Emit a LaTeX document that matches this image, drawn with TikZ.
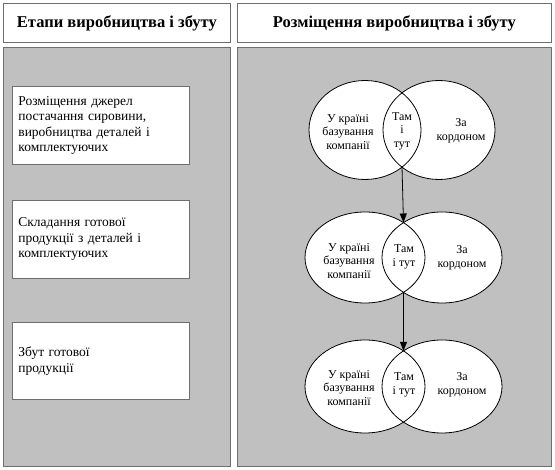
\documentclass[tikz,border=0pt]{standalone}
\usepackage{fontspec}
\setmainfont{Liberation Serif}
\usetikzlibrary{shapes.geometric,arrows.meta,calc,shadows}
\definecolor{panelgray}{RGB}{192,192,192}
\definecolor{edgegray}{RGB}{110,110,110}
\begin{document}
\begin{tikzpicture}[x=1pt,y=-1pt,
  boxbase/.style={draw=edgegray, line width=0.8pt, anchor=north west, inner sep=0pt,
    drop shadow={shadow xshift=0.8pt,shadow yshift=-0.8pt,fill=black,opacity=1}},
  panel/.style={boxbase, fill=panelgray},
  hdr/.style={boxbase, fill=white, font=\rmfamily\bfseries\fontsize{16.5}{19}\selectfont},
  stagebox/.style={boxbase, fill=white, align=left, text width=165pt, inner xsep=6pt,
    minimum width=177pt, font=\rmfamily\fontsize{13.5}{15.5}\selectfont},
  venn/.style={ellipse, draw=black, line width=0.8pt, inner sep=0pt},
  vtext/.style={align=center, inner sep=0pt, font=\rmfamily\fontsize{12}{13.5}\selectfont},
  arr/.style={line width=0.8pt, -{Triangle[length=9pt,width=7pt]}}
]
\useasboundingbox (0,0) rectangle (555,470);
% headers
\node[hdr, minimum width=227pt, minimum height=39pt] (lh) at (3,3) {Етапи виробництва і збуту};
\node[hdr, minimum width=314pt, minimum height=39pt] (rh) at (237,3) {Розміщення виробництва і збуту};
% panels
\node[panel, minimum width=227pt, minimum height=419pt] (lp) at (3,47) {};
\node[panel, minimum width=314pt, minimum height=419pt] (rp) at (237,47) {};
% stage boxes
\node[stagebox, minimum height=78pt] (s1) at (12,86) {Розміщення джерел\\ постачання сировини,\\ виробництва деталей і\\ комплектуючих};
\node[stagebox, minimum height=78pt] (s2) at (12,200) {Складання готової\\ продукції з деталей і\\ комплектуючих};
\node[stagebox, minimum height=77pt] (s3) at (12,322) {Збут готової\\ продукції};
% venn fills
\fill[white] (365,130) ellipse [x radius=56pt, y radius=49.5pt];
\fill[white] (439,130) ellipse [x radius=56pt, y radius=49.5pt];
\fill[white] (365,257.5) ellipse [x radius=60pt, y radius=45.5pt];
\fill[white] (442,257.5) ellipse [x radius=60pt, y radius=45.5pt];
\fill[white] (365,386.5) ellipse [x radius=60pt, y radius=46.5pt];
\fill[white] (442,386.5) ellipse [x radius=60pt, y radius=46.5pt];
% venn outlines
\node[venn, minimum width=112pt, minimum height=99pt] (l1) at (365,130) {};
\node[venn, minimum width=112pt, minimum height=99pt] (r1) at (439,130) {};
\node[venn, minimum width=120pt, minimum height=91pt] (l2) at (365,257.5) {};
\node[venn, minimum width=120pt, minimum height=91pt] (r2) at (442,257.5) {};
\node[venn, minimum width=120pt, minimum height=93pt] (l3) at (365,386.5) {};
\node[venn, minimum width=120pt, minimum height=93pt] (r3) at (442,386.5) {};
% intersections
\coordinate (b1) at ($(l1.center)!0.5!(r1.center)+(0,37)$);
\coordinate (t2) at ($(l2.center)!0.5!(r2.center)+(0,-35)$);
\coordinate (b2) at ($(l2.center)!0.5!(r2.center)+(0,35)$);
\coordinate (t3) at ($(l3.center)!0.5!(r3.center)+(0,-35.7)$);
% texts
\node[vtext] (a1) at (348,132) {У країні\\базування\\компанії};
\node[vtext] (m1) at (402,131) {Там\\і\\тут};
\node[vtext] (c1) at (461,131) {За\\кордоном};
\node[vtext] (a2) at (349,261) {У країні\\базування\\компанії};
\node[vtext] (m2) at (404,257) {Там\\і тут};
\node[vtext] (c2) at (462,258) {За\\кордоном};
\node[vtext] (a3) at (349,388) {У країні\\базування\\компанії};
\node[vtext] (m3) at (404,385) {Там\\і тут};
\node[vtext] (c3) at (462,385) {За\\кордоном};
% arrows
\draw[arr] (b1) -- (t2);
\draw[arr] (b2) -- (t3);
\end{tikzpicture}
\end{document}
